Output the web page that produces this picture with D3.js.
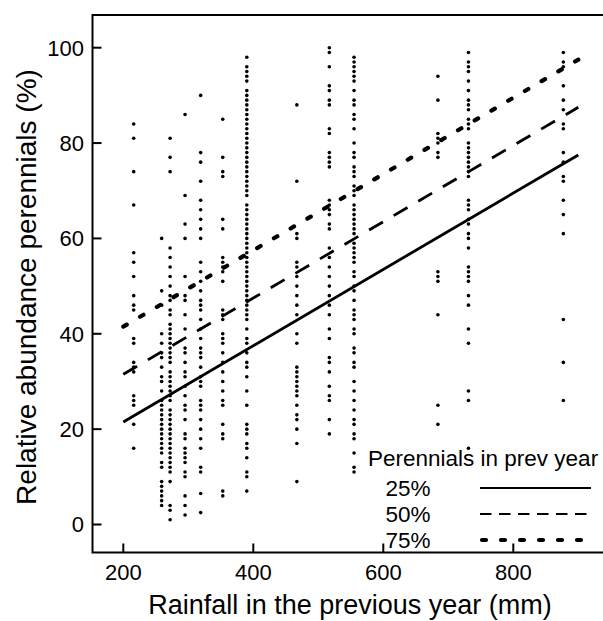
<!DOCTYPE html>
<html>
<head>
<meta charset="utf-8">
<script src="https://cdn.jsdelivr.net/npm/d3@7"></script>
<style>
    body { margin: 0; background: #fff; }
    text { font-family: "Liberation Sans", Arial, sans-serif; fill: #000; }
</style>
</head>
<body>
<svg id="chart"></svg>
<script>
// rainfall of the previous year (mm) for each column of points
const rainfall = [216, 259, 272, 295, 319, 353, 390, 467, 517, 555, 684, 731, 877];

// relative abundance of perennials (%) per column
const abundance = [
    [84, 81, 74, 67, 57, 55, 52, 48, 46, 45, 39, 38, 34, 33, 32, 27, 26, 25, 21, 16],
    [60, 49, 46, 40, 38, 36, 35, 33, 31, 30, 28, 26, 25, 24, 23, 22, 21, 20, 19, 18, 17, 16, 15, 13, 12, 9, 8, 7, 6, 5, 4],
    [81, 77, 74, 58, 56, 54, 52, 50, 48, 47, 45, 44, 42, 41, 40, 39, 38, 37, 36, 35, 34, 32, 31, 30, 29, 28, 27, 26, 24, 23, 22, 21, 20, 19, 18, 17, 16, 15, 14, 13, 12, 11, 9, 4, 3, 1],
    [86, 69, 63, 60, 52, 48, 47, 44, 41, 37, 36, 34, 32, 31, 29, 27, 25, 24, 22, 19, 18, 16, 15, 14, 13, 11, 10, 6, 4, 2],
    [90, 78, 76, 72, 68, 66, 64, 62, 60, 55, 53, 51, 49, 47, 46, 45, 43, 41, 39, 37, 36, 35, 33, 31, 30, 29, 26, 25, 24, 22, 20, 18, 16, 12, 11, 6.5, 2.5],
    [85, 77, 74, 73, 64, 62, 56, 55, 54, 53, 51, 45, 44, 43, 40, 39, 38, 36, 34, 32, 30, 28, 26, 25, 21, 19, 18, 7, 6],
    [98, 96, 95, 94, 93, 91, 90, 89, 88, 87, 86, 85, 84, 83, 82, 81, 80, 79, 78, 77, 76, 75, 74, 73, 72, 71, 70, 69, 67, 66, 65, 64, 63, 62, 61, 60, 59, 58, 57, 56, 55, 54, 53, 52, 51, 50, 49, 48, 47, 46, 45, 44, 43, 41, 39, 38, 36, 34, 33, 31, 28, 25, 21, 20, 19, 17, 16, 14, 11, 10, 7],
    [88, 72, 61, 60, 55, 54, 52, 50, 48, 46, 44, 40, 38, 33, 32, 31, 30, 29, 28, 27, 25, 23, 22, 20, 17, 9],
    [100, 99, 96, 92, 91, 89, 88, 83, 82, 78, 77, 76, 75, 68, 67, 66, 65, 63, 62, 58, 56, 54, 52, 50, 48, 46, 44, 41, 39, 35, 34, 32, 29, 27, 26, 22, 19],
    [98, 97, 96, 95, 94, 93, 91, 89, 88, 86, 85, 83, 80, 78, 77, 75, 74, 73, 71, 70, 69, 67, 66, 65, 64, 63, 62, 61, 59, 58, 57, 56, 55, 53, 52, 50, 49, 47, 45, 44, 43, 41, 40, 37, 36, 34, 33, 30, 28, 26, 24, 22, 21, 19, 18, 15, 12, 11],
    [94, 89, 82, 81, 80, 78, 77, 53, 52, 51, 44, 25, 21],
    [99, 97, 96, 95, 93, 91, 89, 88, 87, 85, 84, 83, 80, 79, 78, 77, 76, 75, 74, 73, 68, 67, 66, 64, 63, 61, 60, 58, 54, 53, 52, 51, 48, 46, 41, 38, 28, 26, 16],
    [99, 97, 96, 92, 89, 87, 84, 83, 78, 76, 73, 72, 68, 65, 61, 43, 34, 26]
];

// fitted lines for perennial abundance in previous year
const lineLabels = ["25%", "50%", "75%"];
const lineX = [200, 900];
const lineStartY = [21.5, 31.5, 41.5];
const lineEndY = [77.5, 87.5, 97.5];

const xTicks = [200, 400, 600, 800];
const yTicks = [0, 20, 40, 60, 80, 100];

const width = 603, height = 621;
const frame = { left: 92.5, top: 15, bottom: 552.5, right: 606 };

const svg = d3.select("#chart")
    .attr("width", width)
    .attr("height", height);

const xScale = d3.scaleLinear().domain([200, 800]).range([123.3, 513.3]);
const yScale = d3.scaleLinear().domain([0, 100]).range([524.5, 47.7]);

const dashStyles = [null, "16,12.5", "4,15.4"];
const lineWidths = [2.8, 2.8, 4.2];
const lineCaps = ["butt", "butt", "round"];
const legendDash = [null, "11.5,7.5", "4,15"];

// points
const points = rainfall.flatMap((r, i) => abundance[i].map(v => ({ r, v })));

svg.append("g")
    .selectAll("circle")
    .data(points)
    .join("circle")
    .attr("cx", d => xScale(d.r))
    .attr("cy", d => yScale(d.v))
    .attr("r", 1.8)
    .attr("fill", "#000");

// regression lines
const line = d3.line()
    .x(d => xScale(d[0]))
    .y(d => yScale(d[1]));

svg.append("g")
    .selectAll("path")
    .data(lineLabels)
    .join("path")
    .attr("d", (d, i) => line([[lineX[0], lineStartY[i]], [lineX[1], lineEndY[i]]]))
    .attr("fill", "none")
    .attr("stroke", "#000")
    .attr("stroke-width", (d, i) => lineWidths[i])
    .attr("stroke-linecap", (d, i) => lineCaps[i])
    .attr("stroke-dasharray", (d, i) => dashStyles[i]);

// frame
svg.append("path")
    .attr("d", `M${frame.right},${frame.top}H${frame.left}V${frame.bottom}H${frame.right}`)
    .attr("fill", "none")
    .attr("stroke", "#000")
    .attr("stroke-width", 2);

// x axis
const xAxis = svg.append("g");
xAxis.selectAll("line")
    .data(xTicks)
    .join("line")
    .attr("x1", d => xScale(d))
    .attr("x2", d => xScale(d))
    .attr("y1", frame.bottom)
    .attr("y2", frame.bottom - 9)
    .attr("stroke", "#000")
    .attr("stroke-width", 2);
xAxis.selectAll("text")
    .data(xTicks)
    .join("text")
    .attr("x", d => xScale(d))
    .attr("y", 580)
    .attr("text-anchor", "middle")
    .style("font-size", "22px")
    .text(d => d);

// y axis
const yAxis = svg.append("g");
yAxis.selectAll("line")
    .data(yTicks)
    .join("line")
    .attr("x1", frame.left)
    .attr("x2", frame.left + 9)
    .attr("y1", d => yScale(d))
    .attr("y2", d => yScale(d))
    .attr("stroke", "#000")
    .attr("stroke-width", 2);
yAxis.selectAll("text")
    .data(yTicks)
    .join("text")
    .attr("x", 84)
    .attr("y", d => yScale(d))
    .attr("dy", "0.36em")
    .attr("text-anchor", "end")
    .style("font-size", "22px")
    .text(d => d);

// axis titles
svg.append("text")
    .attr("x", 350)
    .attr("y", 614)
    .attr("text-anchor", "middle")
    .style("font-size", "27px")
    .text("Rainfall in the previous year (mm)");

svg.append("text")
    .attr("transform", "translate(36, 287) rotate(-90)")
    .attr("text-anchor", "middle")
    .style("font-size", "28px")
    .text("Relative abundance perennials (%)");

// legend
const legend = svg.append("g");
legend.append("text")
    .attr("x", 368)
    .attr("y", 466)
    .style("font-size", "22.5px")
    .text("Perennials in prev year");

const legendItems = legend.selectAll(".legend-item")
    .data(lineLabels)
    .join("g")
    .attr("class", "legend-item")
    .attr("transform", (d, i) => `translate(0, ${i * 26})`);

legendItems.append("text")
    .attr("x", 408)
    .attr("y", 496)
    .attr("text-anchor", "middle")
    .style("font-size", "22.5px")
    .text(d => d);

legendItems.append("line")
    .attr("x1", (d, i) => i === 2 ? 482 : 480)
    .attr("x2", 591)
    .attr("y1", 488)
    .attr("y2", 488)
    .attr("stroke", "#000")
    .attr("stroke-width", (d, i) => i === 2 ? 4.2 : 2.2)
    .attr("stroke-linecap", (d, i) => lineCaps[i])
    .attr("stroke-dasharray", (d, i) => legendDash[i]);
</script>
</body>
</html>
